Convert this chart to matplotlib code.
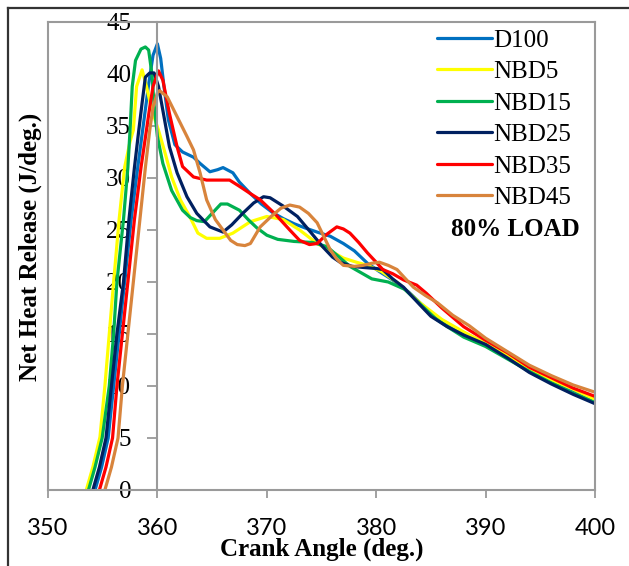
"""
Net heat release vs crank angle, 80% load, diesel and NBD blends.
"""

import matplotlib
matplotlib.use("Agg")
import matplotlib.pyplot as plt
from matplotlib.lines import Line2D


# ---- data ----
d100_x = [354.3, 354.9, 355.5, 356.0, 356.5, 357.0, 357.6, 358.2, 358.7, 359.2, 359.6, 360.0,
          360.3, 360.6, 361.0, 361.6, 362.3, 363.3, 363.9, 364.8, 365.5, 366.0, 366.9, 367.5,
          368.5, 369.5, 370.5, 371.5, 372.5, 373.5, 374.6, 375.8, 377.0, 378.0, 379.2, 380.3,
          381.5, 383.0, 385.0, 387.0, 390.0, 392.0, 394.0, 396.0, 398.0, 400.0]
d100_y = [0, 2.2, 5, 10, 15, 20, 26, 31, 35, 39, 41.8, 42.9,
          41.5, 38.8, 35.6, 33.2, 32.5, 32.0, 31.4, 30.6, 30.8, 31.0, 30.5, 29.6,
          28.5, 27.5, 26.7, 26.1, 25.6, 25.2, 24.8, 24.4, 23.7, 23.0, 21.8, 21.0,
          20.2, 19.0, 17.0, 15.6, 14.1, 12.9, 11.6, 10.5, 9.6, 8.6]

nbd5_x = [353.5, 354.1, 354.75, 355.2, 355.6, 356.0, 356.5, 357.0, 357.5, 357.8, 358.1, 358.6,
          359.0, 359.5, 360.1, 360.7, 361.3, 362.1, 363.0, 363.7, 364.5, 365.7, 366.9, 368.5,
          370.0, 371.5, 373.0, 374.6, 375.8, 377.0, 378.2, 379.2, 380.5, 382.0, 384.0, 386.0,
          388.0, 390.0, 392.0, 394.0, 396.0, 398.0, 400.0]
nbd5_y = [0, 2.2, 5.1, 10, 15, 20, 26, 31, 33.5, 34.6, 38.8, 40.4,
          38.8, 36.5, 34.6, 32.4, 30.1, 27.9, 26.2, 24.7, 24.2, 24.2, 24.7, 25.8,
          26.3, 26.0, 25.0, 23.7, 23.0, 22.3, 21.9, 21.6, 21.0, 19.9, 18.0, 16.4,
          15.2, 14.1, 12.9, 11.6, 10.6, 9.7, 8.7]

nbd15_x = [353.7, 354.3, 354.95, 355.6, 356.0, 356.3, 356.9, 357.3, 357.5, 357.7, 358.0, 358.5,
           358.9, 359.2, 359.5, 359.7, 360.0, 360.5, 361.3, 362.3, 363.0, 363.6, 364.3, 365.0,
           365.8, 366.4, 367.5, 368.3, 369.1, 370.0, 371.0, 372.5, 374.2, 375.5, 376.5, 377.6,
           378.6, 379.6, 381.1, 382.6, 384.1, 385.4, 386.5, 388.0, 390.0, 392.0, 394.0, 396.0,
           398.0, 400.0]
nbd15_y = [0, 2.2, 5, 10, 15, 20, 26, 31, 34.6, 38.8, 41.3, 42.4,
           42.6, 42.3, 40.0, 37.0, 34.0, 31.4, 28.8, 26.9, 26.2, 25.9, 25.8, 26.6,
           27.5, 27.5, 26.9, 26.0, 25.2, 24.5, 24.1, 23.9, 23.8, 23.4, 22.5, 21.5,
           20.9, 20.3, 20.0, 19.3, 17.8, 16.5, 15.7, 14.7, 13.8, 12.6, 11.4, 10.3,
           9.3, 8.4]

nbd25_x = [354.1, 354.7, 355.3, 355.8, 356.3, 356.9, 357.4, 357.9, 358.3, 358.6, 358.9, 359.3,
           359.7, 360.1, 360.5, 361.1, 361.8, 362.7, 363.6, 364.8, 366.0, 366.8, 367.8, 368.8,
           369.7, 370.3, 371.5, 372.8, 374.0, 375.1, 376.0, 376.7, 377.8, 378.8, 380.0, 380.6,
           381.5, 382.5, 384.0, 385.0, 386.5, 388.0, 390.0, 392.0, 394.0, 396.0, 398.0, 400.0]
nbd25_y = [0, 2.2, 5, 10, 15, 20, 26, 31, 34.6, 37.2, 39.7, 40.1,
           40.1, 38.8, 36.5, 33.0, 30.5, 28.2, 26.6, 25.3, 24.8, 25.5, 26.6, 27.6,
           28.2, 28.1, 27.3, 26.3, 24.8, 23.4, 22.4, 21.9, 21.5, 21.4, 21.3, 21.2,
           20.3, 19.5, 17.8, 16.7, 15.7, 14.9, 14.0, 12.7, 11.3, 10.2, 9.2, 8.3]

nbd35_x = [354.7, 355.3, 355.9, 356.3, 356.8, 357.3, 357.9, 358.5, 359.0, 359.3, 359.6, 360.1,
           360.5, 361.1, 361.8, 362.3, 363.3, 364.5, 365.9, 366.6, 367.5, 368.5, 369.4, 370.8,
           372.1, 373.0, 373.9, 374.6, 375.5, 376.4, 377.0, 377.6, 378.4, 379.2, 380.0, 380.6,
           381.5, 382.5, 383.7, 384.6, 386.0, 388.0, 390.0, 392.0, 394.0, 396.0, 398.0, 400.0]
nbd35_y = [0, 2.2, 5, 10, 15, 20, 26, 31, 34.6, 36.8, 38.8, 40.3,
           39.4, 36.2, 33.0, 31.1, 30.1, 29.8, 29.8, 29.8, 29.2, 28.5, 27.9, 26.5,
           25.0, 24.0, 23.6, 23.7, 24.6, 25.3, 25.1, 24.7, 23.8, 22.8, 21.9, 21.2,
           20.8, 20.2, 19.7, 18.9, 17.5, 15.7, 14.4, 13.2, 11.8, 10.8, 9.8, 9.0]

nbd45_x = [355.2, 355.8, 356.4, 356.8, 357.3, 357.8, 358.4, 358.9, 359.3, 359.6, 360.0, 360.2,
           360.9, 361.8, 362.7, 363.3, 363.9, 364.5, 365.3, 366.0, 366.7, 367.3, 368.0, 368.5,
           369.4, 370.5, 371.3, 372.1, 373.0, 373.8, 374.6, 375.2, 375.8, 376.4, 377.0, 378.0,
           378.8, 379.6, 380.3, 381.1, 381.9, 382.6, 383.4, 384.5, 385.6, 387.0, 388.5, 390.0,
           392.0, 394.0, 396.0, 398.0, 400.0]
nbd45_y = [0, 2.2, 5, 10, 15, 20, 26, 31, 34.6, 36.8, 38.2, 38.4,
           37.8, 35.9, 34.0, 32.7, 30.5, 27.9, 26.0, 25.0, 24.0, 23.6, 23.5, 23.7,
           25.3, 26.4, 27.1, 27.4, 27.2, 26.6, 25.7, 24.4, 23.1, 22.2, 21.6, 21.5,
           21.6, 21.8, 21.9, 21.6, 21.2, 20.4, 19.5, 18.7, 18.0, 16.8, 15.8, 14.6,
           13.3, 12.0, 11.0, 10.1, 9.4]

series = [
    ("D100",  d100_x,  d100_y,  "#0070C0"),
    ("NBD5",  nbd5_x,  nbd5_y,  "#FFFF00"),
    ("NBD15", nbd15_x, nbd15_y, "#00B050"),
    ("NBD25", nbd25_x, nbd25_y, "#002060"),
    ("NBD35", nbd35_x, nbd35_y, "#FF0000"),
    ("NBD45", nbd45_x, nbd45_y, "#D8843C"),
]

x_ticks = [350, 360, 370, 380, 390, 400]
y_ticks = [0, 5, 10, 15, 20, 25, 30, 35, 40, 45]

SERIF = "Liberation Serif"
GRID = "#9A9A9A"


def main():
    fig = plt.figure(figsize=(6.29, 5.66), dpi=100)
    ax = fig.add_axes([48 / 629, 76 / 566, 547 / 629, 468 / 566])

    for label, xs, ys, color in series:
        ax.plot(xs, ys, color=color, linewidth=2.3, label=label, solid_capstyle="round")

    ax.set_xlim(350, 400)
    ax.set_ylim(0, 45)
    ax.set_axisbelow(True)

    # box round the plot area, y axis crossing at 360
    for side in ("top", "right", "bottom", "left"):
        ax.spines[side].set_color(GRID)
        ax.spines[side].set_linewidth(1.5)
    ax.spines["left"].set_position(("data", 360))
    ax.axvline(350, color=GRID, linewidth=1.5, clip_on=False, zorder=0.5)

    ax.set_xticks(x_ticks)
    ax.set_yticks(y_ticks)
    ax.tick_params(axis="x", direction="out", length=6, width=1.3, color=GRID,
                   labelsize=17, pad=14, labelfontfamily="Lato")
    ax.tick_params(axis="y", direction="out", length=7, width=1.3, color=GRID,
                   labelsize=18, pad=12, labelfontfamily=SERIF)

    ax.set_xlabel("Crank Angle (deg.)", fontsize=18, fontweight="bold",
                  fontfamily=SERIF, va="center")
    ax.set_ylabel("Net Heat Release (J/deg.)", fontsize=18, fontweight="bold",
                  fontfamily=SERIF, va="center", ha="center")
    ax.xaxis.set_label_coords(0.5, -0.126)
    ax.yaxis.set_label_coords(-0.033, 0.52)

    ax.legend(
        loc="upper left",
        bbox_to_anchor=(0.711, 0.985),
        frameon=False,
        prop={"family": SERIF, "size": 18},
        handlelength=2.2,
        handletextpad=0.05,
        labelspacing=0.36,
        borderpad=0,
        borderaxespad=0,
    )
    ax.text(0.737, 0.556, "80% LOAD", transform=ax.transAxes, fontsize=18,
            fontweight="bold", fontfamily=SERIF, va="center", ha="left")

    # outer chart frame (cut off at right and bottom in the reference)
    fig.add_artist(Line2D([8 / 629, 1], [1 - 8 / 566] * 2, color="#333333",
                          linewidth=1.6, transform=fig.transFigure))
    fig.add_artist(Line2D([8 / 629] * 2, [0, 1 - 8 / 566], color="#333333",
                          linewidth=1.6, transform=fig.transFigure))

    fig.savefig("out.png", dpi=100)
    plt.close(fig)


if __name__ == "__main__":
    main()
